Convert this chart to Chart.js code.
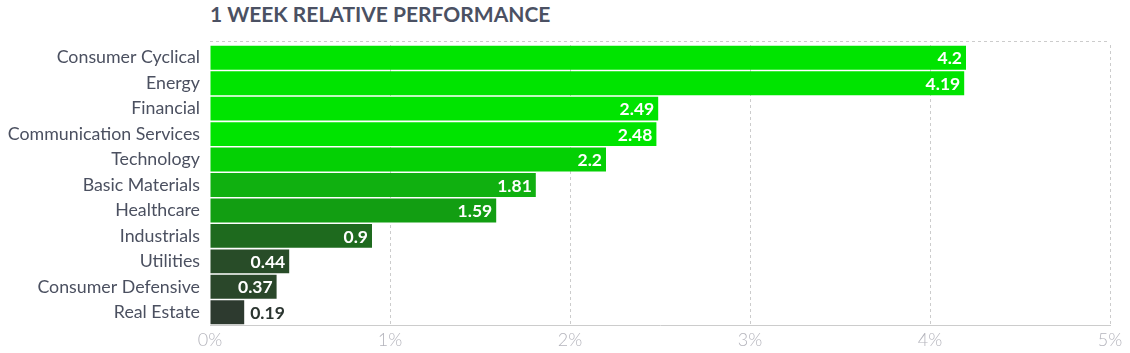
<!DOCTYPE html>
<html>
<head>
<meta charset="utf-8">
<script src="https://cdn.jsdelivr.net/npm/chart.js@4.4.1/dist/chart.umd.min.js"></script>
<style>
  html, body { margin: 0; padding: 0; background: #fff; }
  #wrap { position: relative; width: 1130px; height: 353px; }
  #title { position: absolute; left: 210px; top: 1px; font-family: Lato, sans-serif; font-weight: 700; font-size: 21px; color: #4b5163; letter-spacing: 0px; }
  canvas { position: absolute; left: 0; top: 0; }
</style>
</head>
<body>
<div id="wrap">
  <div id="title">1 WEEK RELATIVE PERFORMANCE</div>
  <canvas id="c" width="1130" height="353"></canvas>
</div>
<script>
const categories = ["Consumer Cyclical", "Energy", "Financial", "Communication Services", "Technology", "Basic Materials", "Healthcare", "Industrials", "Utilities", "Consumer Defensive", "Real Estate"];
const values = [4.2, 4.19, 2.49, 2.48, 2.2, 1.81, 1.59, 0.9, 0.44, 0.37, 0.19];
const barColors = ["#00e400", "#00e400", "#00e400", "#00e400", "#04d004", "#10b010", "#129e12", "#1e6a1e", "#284c28", "#2a472a", "#2d3a2f"];
const tickLabels = ["0%", "1%", "2%", "3%", "4%", "5%"];

const valueLabels = {
  id: 'valueLabels',
  afterDatasetsDraw(chart) {
    const ctx = chart.ctx;
    const meta = chart.getDatasetMeta(0);
    ctx.save();
    ctx.font = "700 17.5px Lato, sans-serif";
    ctx.textBaseline = 'middle';
    meta.data.forEach((bar, i) => {
      const txt = String(values[i]);
      const w = ctx.measureText(txt).width;
      const barW = bar.x - bar.base;
      if (w + 8 < barW) {
        ctx.fillStyle = '#ffffff';
        ctx.textAlign = 'right';
        ctx.fillText(txt, bar.x - 4, bar.y + 1);
      } else {
        ctx.fillStyle = '#2b3530';
        ctx.textAlign = 'left';
        ctx.fillText(txt, bar.x + 6, bar.y + 1);
      }
    });
    ctx.restore();
  }
};

const topLine = {
  id: 'topLine',
  beforeDatasetsDraw(chart) {
    const ctx = chart.ctx, a = chart.chartArea;
    ctx.save();
    ctx.strokeStyle = '#cccccc';
    ctx.lineWidth = 1;
    ctx.setLineDash([3, 3]);
    ctx.beginPath();
    ctx.moveTo(a.left, Math.round(a.top) - 3.5);
    ctx.lineTo(a.right, Math.round(a.top) - 3.5);
    ctx.stroke();
    ctx.restore();
  }
};

new Chart(document.getElementById('c'), {
  type: 'bar',
  data: {
    labels: categories,
    datasets: [{
      data: values,
      backgroundColor: barColors,
      borderWidth: 0,
      barPercentage: 0.94,
      categoryPercentage: 1.0
    }]
  },
  plugins: [topLine, valueLabels],
  options: {
    indexAxis: 'y',
    responsive: false,
    animation: false,
    devicePixelRatio: 1,
    layout: { padding: { left: 0, right: 20, top: 45, bottom: 0 } },
    plugins: { legend: { display: false }, tooltip: { enabled: false }, title: { display: false } },
    scales: {
      x: {
        type: 'linear',
        min: 0, max: 5,
        ticks: {
          stepSize: 1,
          padding: 4,
          color: '#b4b4bc',
          font: { family: 'Lato', size: 18, weight: 300 },
          callback: (v, i) => tickLabels[i]
        },
        grid: {
          drawTicks: false,
          color: (c) => c.index === 0 ? 'rgba(0,0,0,0)' : '#cccccc',
          lineWidth: 1
        },
        border: { display: true, dash: [3, 3], color: '#cccccc' },
        afterFit: (s) => { s.height = 28; }
      },
      y: {
        ticks: {
          color: '#4b5060',
          padding: 2,
          font: { family: 'Lato', size: 17.8 }
        },
        grid: { display: false },
        border: { display: false },
        afterFit: (s) => { s.width = 210; }
      }
    }
  }
});
</script>
</body>
</html>
